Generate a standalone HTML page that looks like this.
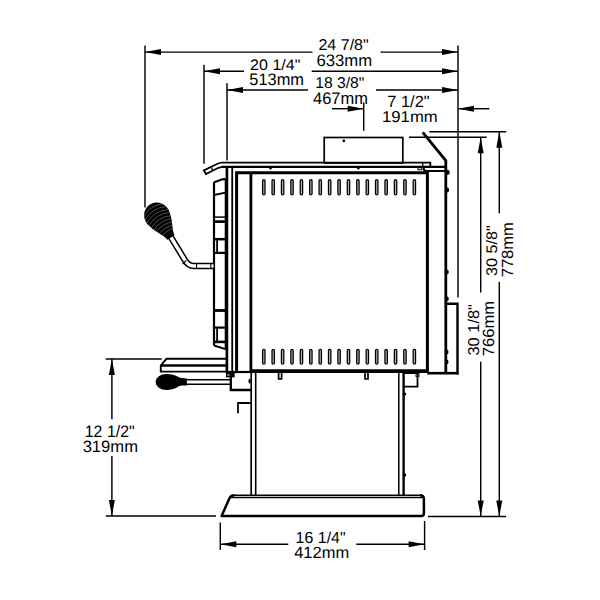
<!DOCTYPE html>
<html><head><meta charset="utf-8"><style>
html,body{margin:0;padding:0;background:#fff;width:600px;height:600px;overflow:hidden}
svg{display:block}
text{font-family:"Liberation Sans",sans-serif;fill:#000;stroke:none;text-rendering:geometricPrecision}
</style></head><body>
<svg width="600" height="600" viewBox="0 0 600 600" stroke="#000" fill="none">
<rect x="0" y="0" width="600" height="600" fill="#fff" stroke="none"/>
<line x1="145" y1="52.1" x2="312.5" y2="52.1" stroke-width="1.45" stroke-linecap="butt"/>
<line x1="380.5" y1="52.1" x2="458" y2="52.1" stroke-width="1.45" stroke-linecap="butt"/>
<polygon points="145,52.1 161,49.1 161,55.1" fill="#000" stroke="none"/>
<polygon points="458,52.1 442,49.1 442,55.1" fill="#000" stroke="none"/>
<line x1="145" y1="45.5" x2="145" y2="207.5" stroke-width="1.45" stroke-linecap="butt"/>
<line x1="458" y1="45.5" x2="458" y2="297.5" stroke-width="1.45" stroke-linecap="butt"/>
<text transform="matrix(0.16036 0 0 0.15616 318.448 50.444)" font-size="100">24 7/8&quot;</text>
<text transform="matrix(0.16677 0 0 0.16620 316.466 65.734)" font-size="100">633mm</text>
<line x1="204" y1="71.2" x2="244" y2="71.2" stroke-width="1.45" stroke-linecap="butt"/>
<line x1="311.7" y1="71.2" x2="458" y2="71.2" stroke-width="1.45" stroke-linecap="butt"/>
<polygon points="204,71.2 220,68.2 220,74.2" fill="#000" stroke="none"/>
<polygon points="458,71.2 442,68.2 442,74.2" fill="#000" stroke="none"/>
<line x1="204" y1="64.7" x2="204" y2="163.8" stroke-width="1.45" stroke-linecap="butt"/>
<text transform="matrix(0.16053 0 0 0.15342 250.097 69.747)" font-size="100">20 1/4&quot;</text>
<text transform="matrix(0.16440 0 0 0.16620 249.242 84.734)" font-size="100">513mm</text>
<line x1="227" y1="90" x2="308" y2="90" stroke-width="1.45" stroke-linecap="butt"/>
<line x1="376" y1="90" x2="458" y2="90" stroke-width="1.45" stroke-linecap="butt"/>
<polygon points="227,90 243,87.0 243,93.0" fill="#000" stroke="none"/>
<polygon points="458,90 442,87.0 442,93.0" fill="#000" stroke="none"/>
<line x1="227" y1="83.3" x2="227" y2="160.4" stroke-width="1.45" stroke-linecap="butt"/>
<text transform="matrix(0.15681 0 0 0.15616 315.246 88.444)" font-size="100">18 3/8&quot;</text>
<text transform="matrix(0.16523 0 0 0.16901 312.970 103.731)" font-size="100">467mm</text>
<line x1="332" y1="108.7" x2="363.7" y2="108.7" stroke-width="1.45" stroke-linecap="butt"/>
<polygon points="363.7,108.7 347.7,105.7 347.7,111.7" fill="#000" stroke="none"/>
<line x1="458" y1="108.7" x2="489.3" y2="108.7" stroke-width="1.45" stroke-linecap="butt"/>
<polygon points="458,108.7 474,105.7 474,111.7" fill="#000" stroke="none"/>
<line x1="363.7" y1="102.5" x2="363.7" y2="130.8" stroke-width="1.45" stroke-linecap="butt"/>
<text transform="matrix(0.16426 0 0 0.16164 387.279 107.338)" font-size="100">7 1/2&quot;</text>
<text transform="matrix(0.16740 0 0 0.15775 381.961 122.242)" font-size="100">191mm</text>
<line x1="429.3" y1="131.8" x2="506.2" y2="131.8" stroke-width="1.45" stroke-linecap="butt"/>
<line x1="409" y1="137.3" x2="486.7" y2="137.3" stroke-width="1.45" stroke-linecap="butt"/>
<line x1="428" y1="516.4" x2="506" y2="516.4" stroke-width="1.45" stroke-linecap="butt"/>
<line x1="480.7" y1="137.3" x2="480.7" y2="292.5" stroke-width="1.45" stroke-linecap="butt"/>
<line x1="480.7" y1="361.7" x2="480.7" y2="516.4" stroke-width="1.45" stroke-linecap="butt"/>
<polygon points="480.7,137.3 477.7,153.3 483.7,153.3" fill="#000" stroke="none"/>
<polygon points="480.7,516.4 477.7,500.4 483.7,500.4" fill="#000" stroke="none"/>
<line x1="499.3" y1="131.8" x2="499.3" y2="213.3" stroke-width="1.45" stroke-linecap="butt"/>
<line x1="499.3" y1="281.8" x2="499.3" y2="516.4" stroke-width="1.45" stroke-linecap="butt"/>
<polygon points="499.3,131.8 496.3,147.8 502.3,147.8" fill="#000" stroke="none"/>
<polygon points="499.3,516.4 496.3,500.4 502.3,500.4" fill="#000" stroke="none"/>
<text transform="translate(497.447 276.047) rotate(-90) scale(0.16164 0.15342)" font-size="100">30 5/8&quot;</text>
<text transform="translate(512.838 277.328) rotate(-90) scale(0.16553 0.16197)" font-size="100">778mm</text>
<text transform="translate(478.842 355.557) rotate(-90) scale(0.16426 0.15753)" font-size="100">30 1/8&quot;</text>
<text transform="translate(493.738 356.229) rotate(-90) scale(0.16584 0.16197)" font-size="100">766mm</text>
<line x1="105.7" y1="359" x2="161.7" y2="359" stroke-width="1.45" stroke-linecap="butt"/>
<line x1="105.7" y1="516" x2="216" y2="516" stroke-width="1.45" stroke-linecap="butt"/>
<line x1="111.9" y1="359" x2="111.9" y2="419.3" stroke-width="1.45" stroke-linecap="butt"/>
<line x1="111.9" y1="456" x2="111.9" y2="516" stroke-width="1.45" stroke-linecap="butt"/>
<polygon points="111.9,359 108.9,375 114.9,375" fill="#000" stroke="none"/>
<polygon points="111.9,516 108.9,500 114.9,500" fill="#000" stroke="none"/>
<text transform="matrix(0.15947 0 0 0.16575 84.724 436.734)" font-size="100">12 1/2&quot;</text>
<text transform="matrix(0.16594 0 0 0.16479 82.636 451.835)" font-size="100">319mm</text>
<line x1="220.3" y1="522.5" x2="220.3" y2="550" stroke-width="1.45" stroke-linecap="butt"/>
<line x1="424.6" y1="521" x2="424.6" y2="550" stroke-width="1.45" stroke-linecap="butt"/>
<line x1="220.3" y1="544.2" x2="288.3" y2="544.2" stroke-width="1.45" stroke-linecap="butt"/>
<line x1="356.3" y1="544.2" x2="424.6" y2="544.2" stroke-width="1.45" stroke-linecap="butt"/>
<polygon points="220.3,544.2 236.3,541.2 236.3,547.2" fill="#000" stroke="none"/>
<polygon points="424.6,544.2 408.6,541.2 408.6,547.2" fill="#000" stroke="none"/>
<text transform="matrix(0.15947 0 0 0.16027 295.624 542.840)" font-size="100">16 1/4&quot;</text>
<text transform="matrix(0.16492 0 0 0.16286 294.170 558.100)" font-size="100">412mm</text>
<rect x="324.2" y="137.5" width="78.6" height="25.5" stroke-width="1.7" fill="none" rx="0"/>
<circle cx="343.8" cy="140.8" r="1.4" fill="#000" stroke="none"/>
<path d="M430.3,166.8 L430.3,162.7 L222,162.7 Q219.5,162.7 216.5,164.2 L203.8,170.4 L205.9,174 L218.5,167.8 Q221,166.8 224,166.8" stroke-width="1.8" fill="none" />
<line x1="222" y1="166.8" x2="446" y2="166.8" stroke-width="2.2" stroke-linecap="butt"/>
<line x1="211.3" y1="167.5" x2="212.8" y2="170.4" stroke-width="1.3" stroke-linecap="butt"/>
<line x1="422.7" y1="162.7" x2="422.7" y2="166.3" stroke-width="1.3" stroke-linecap="butt"/>
<path d="M446,171 L426.5,171 Q423.7,171 423.7,168.5 L423.7,166.3" stroke-width="2.0" fill="none" />
<rect x="417.9" y="167.8" width="4" height="2" stroke-width="0.9" fill="none" rx="0"/>
<polyline points="236.6,372 236.6,172.7 427.4,172.7 427.4,372" stroke-width="3.0" fill="none" stroke-linejoin="miter"/>
<line x1="226.9" y1="166.8" x2="226.9" y2="372" stroke-width="2.7" stroke-linecap="butt"/>
<line x1="232.2" y1="166.8" x2="232.2" y2="372" stroke-width="1.8" stroke-linecap="butt"/>
<line x1="250.9" y1="172.7" x2="250.9" y2="372" stroke-width="2.8" stroke-linecap="butt"/>
<line x1="225.8" y1="372" x2="250.9" y2="372" stroke-width="2.2" stroke-linecap="butt"/>
<line x1="250.9" y1="371.1" x2="428" y2="371.1" stroke-width="3.8" stroke-linecap="butt"/>
<polyline points="422.7,132.3 445.8,160.5 445.8,373" stroke-width="2.8" fill="none" stroke-linejoin="miter"/>
<line x1="427.2" y1="373.2" x2="458.5" y2="373.2" stroke-width="2.6" stroke-linecap="butt"/>
<polyline points="445.8,303.8 457.5,303.8 457.5,374.4" stroke-width="2.4" fill="none" stroke-linejoin="miter"/>
<ellipse cx="447.6" cy="172.3" rx="2.2" ry="2.6" fill="#000" stroke="none"/>
<ellipse cx="447.3" cy="190" rx="1.8" ry="2.4" fill="#000" stroke="none"/>
<ellipse cx="447.1" cy="352" rx="1.4" ry="2.2" fill="#000" stroke="none"/>
<ellipse cx="447.1" cy="362" rx="1.4" ry="2.2" fill="#000" stroke="none"/>
<ellipse cx="447.2" cy="272" rx="1.6" ry="2.3" fill="#000" stroke="none"/>
<ellipse cx="447.2" cy="298.7" rx="1.6" ry="2.3" fill="#000" stroke="none"/>
<rect x="262.6" y="179.60000000000002" width="2.4" height="15.299999999999978" stroke-width="1.25" fill="#b0b0b0" rx="1.2"/>
<rect x="262.6" y="349.3" width="2.4" height="14.799999999999978" stroke-width="1.25" fill="#b0b0b0" rx="1.2"/>
<rect x="272.01000000000005" y="179.60000000000002" width="2.4" height="15.299999999999978" stroke-width="1.25" fill="#b0b0b0" rx="1.2"/>
<rect x="272.01000000000005" y="349.3" width="2.4" height="14.799999999999978" stroke-width="1.25" fill="#b0b0b0" rx="1.2"/>
<rect x="281.42" y="179.60000000000002" width="2.4" height="15.299999999999978" stroke-width="1.25" fill="#b0b0b0" rx="1.2"/>
<rect x="281.42" y="349.3" width="2.4" height="14.799999999999978" stroke-width="1.25" fill="#b0b0b0" rx="1.2"/>
<rect x="290.83000000000004" y="179.60000000000002" width="2.4" height="15.299999999999978" stroke-width="1.25" fill="#b0b0b0" rx="1.2"/>
<rect x="290.83000000000004" y="349.3" width="2.4" height="14.799999999999978" stroke-width="1.25" fill="#b0b0b0" rx="1.2"/>
<rect x="300.24" y="179.60000000000002" width="2.4" height="15.299999999999978" stroke-width="1.25" fill="#b0b0b0" rx="1.2"/>
<rect x="300.24" y="349.3" width="2.4" height="14.799999999999978" stroke-width="1.25" fill="#b0b0b0" rx="1.2"/>
<rect x="309.65000000000003" y="179.60000000000002" width="2.4" height="15.299999999999978" stroke-width="1.25" fill="#b0b0b0" rx="1.2"/>
<rect x="309.65000000000003" y="349.3" width="2.4" height="14.799999999999978" stroke-width="1.25" fill="#b0b0b0" rx="1.2"/>
<rect x="319.06" y="179.60000000000002" width="2.4" height="15.299999999999978" stroke-width="1.25" fill="#b0b0b0" rx="1.2"/>
<rect x="319.06" y="349.3" width="2.4" height="14.799999999999978" stroke-width="1.25" fill="#b0b0b0" rx="1.2"/>
<rect x="328.47" y="179.60000000000002" width="2.4" height="15.299999999999978" stroke-width="1.25" fill="#b0b0b0" rx="1.2"/>
<rect x="328.47" y="349.3" width="2.4" height="14.799999999999978" stroke-width="1.25" fill="#b0b0b0" rx="1.2"/>
<rect x="337.88000000000005" y="179.60000000000002" width="2.4" height="15.299999999999978" stroke-width="1.25" fill="#b0b0b0" rx="1.2"/>
<rect x="337.88000000000005" y="349.3" width="2.4" height="14.799999999999978" stroke-width="1.25" fill="#b0b0b0" rx="1.2"/>
<rect x="347.29" y="179.60000000000002" width="2.4" height="15.299999999999978" stroke-width="1.25" fill="#b0b0b0" rx="1.2"/>
<rect x="347.29" y="349.3" width="2.4" height="14.799999999999978" stroke-width="1.25" fill="#b0b0b0" rx="1.2"/>
<rect x="356.7" y="179.60000000000002" width="2.4" height="15.299999999999978" stroke-width="1.25" fill="#b0b0b0" rx="1.2"/>
<rect x="356.7" y="349.3" width="2.4" height="14.799999999999978" stroke-width="1.25" fill="#b0b0b0" rx="1.2"/>
<rect x="366.11" y="179.60000000000002" width="2.4" height="15.299999999999978" stroke-width="1.25" fill="#b0b0b0" rx="1.2"/>
<rect x="366.11" y="349.3" width="2.4" height="14.799999999999978" stroke-width="1.25" fill="#b0b0b0" rx="1.2"/>
<rect x="375.52000000000004" y="179.60000000000002" width="2.4" height="15.299999999999978" stroke-width="1.25" fill="#b0b0b0" rx="1.2"/>
<rect x="375.52000000000004" y="349.3" width="2.4" height="14.799999999999978" stroke-width="1.25" fill="#b0b0b0" rx="1.2"/>
<rect x="384.93" y="179.60000000000002" width="2.4" height="15.299999999999978" stroke-width="1.25" fill="#b0b0b0" rx="1.2"/>
<rect x="384.93" y="349.3" width="2.4" height="14.799999999999978" stroke-width="1.25" fill="#b0b0b0" rx="1.2"/>
<rect x="394.34000000000003" y="179.60000000000002" width="2.4" height="15.299999999999978" stroke-width="1.25" fill="#b0b0b0" rx="1.2"/>
<rect x="394.34000000000003" y="349.3" width="2.4" height="14.799999999999978" stroke-width="1.25" fill="#b0b0b0" rx="1.2"/>
<rect x="403.75000000000006" y="179.60000000000002" width="2.4" height="15.299999999999978" stroke-width="1.25" fill="#b0b0b0" rx="1.2"/>
<rect x="403.75000000000006" y="349.3" width="2.4" height="14.799999999999978" stroke-width="1.25" fill="#b0b0b0" rx="1.2"/>
<rect x="413.16" y="179.60000000000002" width="2.4" height="15.299999999999978" stroke-width="1.25" fill="#b0b0b0" rx="1.2"/>
<rect x="413.16" y="349.3" width="2.4" height="14.799999999999978" stroke-width="1.25" fill="#b0b0b0" rx="1.2"/>
<polygon points="267.3,166.8 270.5,169.8 273.7,166.8" fill="#000" stroke="none"/>
<polygon points="355.1,166.8 358.3,169.8 361.5,166.8" fill="#000" stroke="none"/>
<path d="M214,345.5 L214,183 Q214,182.3 215,182 L222.3,179.3 L225.6,179.2" stroke-width="2.2" fill="none" />
<line x1="225.6" y1="179.2" x2="225.6" y2="349.6" stroke-width="1.8" stroke-linecap="butt"/>
<line x1="214" y1="195" x2="225.5" y2="192.7" stroke-width="1.8" stroke-linecap="butt"/>
<line x1="214" y1="217.1" x2="225.5" y2="217.1" stroke-width="1.5" stroke-linecap="butt"/>
<line x1="214" y1="221.6" x2="225.5" y2="221.6" stroke-width="2.7" stroke-linecap="butt"/>
<line x1="214" y1="239.2" x2="225.5" y2="239.2" stroke-width="2.5" stroke-linecap="butt"/>
<line x1="217.1" y1="239.2" x2="217.1" y2="252.9" stroke-width="1.8" stroke-linecap="butt"/>
<line x1="214" y1="252.9" x2="225.5" y2="252.9" stroke-width="2.2" stroke-linecap="butt"/>
<line x1="214" y1="310.5" x2="225.5" y2="310.5" stroke-width="2.8" stroke-linecap="butt"/>
<line x1="214" y1="327.6" x2="225.5" y2="327.6" stroke-width="2.2" stroke-linecap="butt"/>
<line x1="217.1" y1="327.6" x2="217.1" y2="341.9" stroke-width="1.8" stroke-linecap="butt"/>
<line x1="214" y1="341.9" x2="225.5" y2="341.9" stroke-width="2.6" stroke-linecap="butt"/>
<polyline points="214,345.5 225.6,349.2" stroke-width="1.9" fill="none" stroke-linejoin="miter"/>
<path d="M170.5,236.5 L184.5,259.5 Q188,266 194,266 L213.5,266" stroke-width="6.4" fill="none" stroke-linecap="butt" stroke-linejoin="round"/>
<path d="M170.5,236.5 L184.5,259.5 Q188,266 194,266 L213.5,266" stroke-width="3.4" fill="none" stroke="#fff" stroke-linecap="butt" stroke-linejoin="round"/>
<line x1="196.6" y1="263" x2="196.6" y2="269" stroke-width="1.1" stroke-linecap="butt"/>
<line x1="186.2" y1="260.5" x2="182.5" y2="264.2" stroke-width="1.1" stroke-linecap="butt"/>
<line x1="210.8" y1="263" x2="210.8" y2="269" stroke-width="1.1" stroke-linecap="butt"/>
<g transform="translate(157.2,215.8) rotate(57.5)"><clipPath id="kc1"><path d="M-13.5,0 A13.5,12.5 0 0 1 4.05,-12.25 C14.135000000000002,-10.0 17.99,-5.460000000000001 25.7,-4.2 L25.7,4.2 C17.99,5.460000000000001 14.135000000000002,10.0 4.05,12.25 A13.5,12.5 0 0 1 -13.5,0 Z"/></clipPath><path d="M-13.5,0 A13.5,12.5 0 0 1 4.05,-12.25 C14.135000000000002,-10.0 17.99,-5.460000000000001 25.7,-4.2 L25.7,4.2 C17.99,5.460000000000001 14.135000000000002,10.0 4.05,12.25 A13.5,12.5 0 0 1 -13.5,0 Z" fill="#000" stroke="none"/><g clip-path="url(#kc1)"><path d="M-6.5,-12.5 Q-13,0 -6.5,12.5" stroke="#606060" stroke-width="0.75" fill="none"/><path d="M-3.0,-12.5 Q-9.5,0 -3.0,12.5" stroke="#606060" stroke-width="0.75" fill="none"/><path d="M0.5,-12.5 Q-6,0 0.5,12.5" stroke="#606060" stroke-width="0.75" fill="none"/><path d="M4.0,-12.5 Q-2.5,0 4.0,12.5" stroke="#606060" stroke-width="0.75" fill="none"/><path d="M7.5,-12.5 Q1,0 7.5,12.5" stroke="#606060" stroke-width="0.75" fill="none"/><path d="M11.0,-12.5 Q4.5,0 11.0,12.5" stroke="#606060" stroke-width="0.75" fill="none"/><path d="M14.5,-12.5 Q8,0 14.5,12.5" stroke="#606060" stroke-width="0.75" fill="none"/><path d="M18.0,-12.5 Q11.5,0 18.0,12.5" stroke="#606060" stroke-width="0.75" fill="none"/><path d="M21.5,-12.5 Q15,0 21.5,12.5" stroke="#606060" stroke-width="0.75" fill="none"/></g></g>
<polyline points="226.9,358.8 166.5,358.8 160.8,365.5 160.8,371.6 226.9,371.6" stroke-width="1.9" fill="none" stroke-linejoin="miter"/>
<line x1="160.8" y1="365.5" x2="226.9" y2="365.5" stroke-width="2.5" stroke-linecap="butt"/>
<path d="M185,379.8 L230.4,379.8 M185,384.3 L230.4,384.3" stroke-width="1.6" fill="none" />
<path d="M155.6,382 A10.8,8.1 0 0 1 166.4,373.9 C171.5,373.9 175,375 178.5,377 Q180,378 182,378.1 L186.8,378.4 L186.8,385.4 L182,385.6 Q180,385.8 178.5,386.6 C175,388.6 171.5,390.1 166.4,390.1 A10.8,8.1 0 0 1 155.6,382 Z" fill="#000" stroke="none"/>
<polyline points="230.8,377 230.8,390 250.9,390" stroke-width="2.3" fill="none" stroke-linejoin="miter"/>
<ellipse cx="249.6" cy="381.2" rx="1.1" ry="2.4" fill="#000" stroke="none"/>
<rect x="226" y="373" width="8.6" height="4.4" fill="#000" stroke="none"/><rect x="227.3" y="374" width="2.2" height="2" fill="#888" stroke="none"/>
<polyline points="238,413.3 238,403 250.9,403" stroke-width="1.8" fill="none" stroke-linejoin="miter"/>
<polyline points="403.6,373 417.5,373 417.5,386.7 403.6,386.7" stroke-width="1.8" fill="none" stroke-linejoin="miter"/>
<rect x="416" y="373.5" width="3" height="3" stroke-width="0.9" fill="none" rx="0"/>
<circle cx="404.6" cy="394" r="1.6" fill="#000" stroke="none"/>
<circle cx="404.6" cy="475" r="1.7" fill="#000" stroke="none"/>
<line x1="251.2" y1="372" x2="251.2" y2="495.5" stroke-width="1.7" stroke-linecap="butt"/>
<line x1="255.7" y1="372" x2="255.7" y2="495.5" stroke-width="1.6" stroke-linecap="butt"/>
<line x1="398.8" y1="372" x2="398.8" y2="495.5" stroke-width="1.5" stroke-linecap="butt"/>
<line x1="403.6" y1="372" x2="403.6" y2="495.5" stroke-width="2.4" stroke-linecap="butt"/>
<path d="M278.6,372 L278.6,378.9 L281.6,378.9 L281.6,372" stroke-width="1.7" fill="none" />
<path d="M365,372 L365,378.9 L368,378.9 L368,372" stroke-width="1.7" fill="none" />
<path d="M420,495.2 Q423.9,495.2 423.9,499 L423.9,513.5 Q423.9,515.9 421.5,515.9 L221.6,515.9 L229.6,498 Q231,495.2 234.5,495.2" stroke-width="2.5" fill="none" stroke-linejoin="round"/>
<line x1="234" y1="495.2" x2="421" y2="495.2" stroke-width="1.5" stroke-linecap="butt"/>
<line x1="231" y1="497.5" x2="422.5" y2="497.5" stroke-width="1.4" stroke-linecap="butt"/>
</svg></body></html>
